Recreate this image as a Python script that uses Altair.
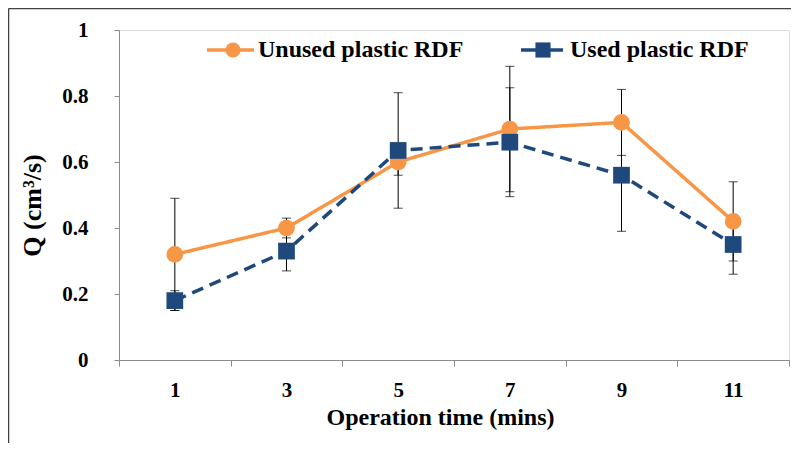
import altair as alt
import pandas as pd

times = ["1", "3", "5", "7", "9", "11"]
series_names = ["Unused plastic RDF", "Used plastic RDF"]
unused_q = [0.32, 0.40, 0.60, 0.70, 0.72, 0.42]
unused_err = [0.17, 0.03, 0.04, 0.19, 0.10, 0.12]
used_q = [0.18, 0.33, 0.635, 0.66, 0.56, 0.35]
used_err = [0.03, 0.06, 0.175, 0.165, 0.17, 0.09]
y_ticks = [0, 0.2, 0.4, 0.6, 0.8, 1]

colors = ["#F79646", "#1F497D"]
shapes = ["circle", "square"]
dashes = [[1, 0], [12, 7]]
FONT = "Liberation Serif"

rows = []
for name, vals, errs in [(series_names[0], unused_q, unused_err),
                         (series_names[1], used_q, used_err)]:
    for t, v, e in zip(times, vals, errs):
        rows.append({"t": t, "series": name, "q": v, "lo": v - e, "hi": v + e})
df = pd.DataFrame(rows)

x_enc = alt.X(
    "t:O", sort=times,
    scale=alt.Scale(type="band", paddingInner=0, paddingOuter=0),
    axis=alt.Axis(
        title="Operation time (mins)", labelAngle=0, tickBand="extent",
        domainColor="#8c8c8c", tickColor="#8c8c8c", tickSize=6, grid=False,
        labelFont=FONT, labelFontSize=21, labelFontWeight="bold", labelColor="#000",
        labelPadding=13, titleFont=FONT, titleFontSize=24, titleFontWeight="bold",
        titleColor="#000", titlePadding=5, titleX=321, titleAlign="center",
    ),
)
y_scale = alt.Scale(domain=[0, 1], nice=False, zero=True)
y_axis = alt.Axis(
    title="Q (cm³/s)", values=y_ticks, format="~g", grid=False,
    domainColor="#8c8c8c", tickColor="#8c8c8c", tickSize=5,
    labelFont=FONT, labelFontSize=21, labelFontWeight="bold", labelColor="#000",
    labelPadding=26, titleFont=FONT, titleFontSize=26, titleFontWeight="bold",
    titleColor="#000", titlePadding=16, titleY=175, titleAlign="center",
)
color = alt.Color("series:N", scale=alt.Scale(domain=series_names, range=colors), legend=None)

base = alt.Chart(df)
err_rules = base.mark_rule(color="#000", strokeWidth=1).encode(
    x=x_enc, y=alt.Y("lo:Q", scale=y_scale, axis=y_axis), y2="hi:Q")
cap_lo = base.mark_tick(color="#000", size=9, thickness=1).encode(
    x=x_enc, y=alt.Y("lo:Q", scale=y_scale))
cap_hi = base.mark_tick(color="#000", size=9, thickness=1).encode(
    x=x_enc, y=alt.Y("hi:Q", scale=y_scale))
lines = base.mark_line(strokeWidth=3.5).encode(
    x=x_enc, y=alt.Y("q:Q", scale=y_scale), color=color,
    strokeDash=alt.StrokeDash("series:N", scale=alt.Scale(domain=series_names, range=dashes), legend=None),
)
points = base.mark_point(filled=True, size=280, opacity=1).encode(
    x=x_enc, y=alt.Y("q:Q", scale=y_scale), color=color,
    shape=alt.Shape("series:N", scale=alt.Scale(domain=series_names, range=shapes), legend=None),
)

# frame around the figure (left and top edges visible)
one = pd.DataFrame({"k": [0]})
frame_left = alt.Chart(one).mark_rule(color="#404040", strokeWidth=1.5).encode(
    x=alt.value(-110.5), y=alt.value(-21.5), y2=alt.value(430))
frame_top = alt.Chart(one).mark_rule(color="#404040", strokeWidth=1.5).encode(
    x=alt.value(-110.5), x2=alt.value(700), y=alt.value(-21.5))

# manual legend
legend_layers = []
leg_pos = [(88, 135, 114, 139), (402, 444, 424, 451)]
for i, name in enumerate(series_names):
    x0, x1, xm, xt = leg_pos[i]
    d = pd.DataFrame({"s": [name]})
    legend_layers.append(alt.Chart(d).mark_rule(color=colors[i], strokeWidth=3.5).encode(
        x=alt.value(x0), x2=alt.value(x1), y=alt.value(20)))
    legend_layers.append(alt.Chart(d).mark_point(filled=True, opacity=1, size=230, shape=shapes[i], color=colors[i]).encode(
        x=alt.value(xm), y=alt.value(20)))
    legend_layers.append(alt.Chart(d).mark_text(align="left", baseline="middle", font=FONT, fontSize=24,
                                                fontWeight="bold", color="#000").encode(
        x=alt.value(xt), y=alt.value(20), text="s:N"))

chart = alt.layer(
    frame_left, frame_top, err_rules, cap_lo, cap_hi, lines, points, *legend_layers
).properties(
    width=670, height=330,
    padding={"left": 111, "top": 22, "right": 2, "bottom": 83},
    autosize=alt.AutoSizeParams(type="none"),
).configure_view(stroke=None).configure(background="#ffffff")

chart.save("out.html", embed_options={"renderer": "svg", "actions": False})
